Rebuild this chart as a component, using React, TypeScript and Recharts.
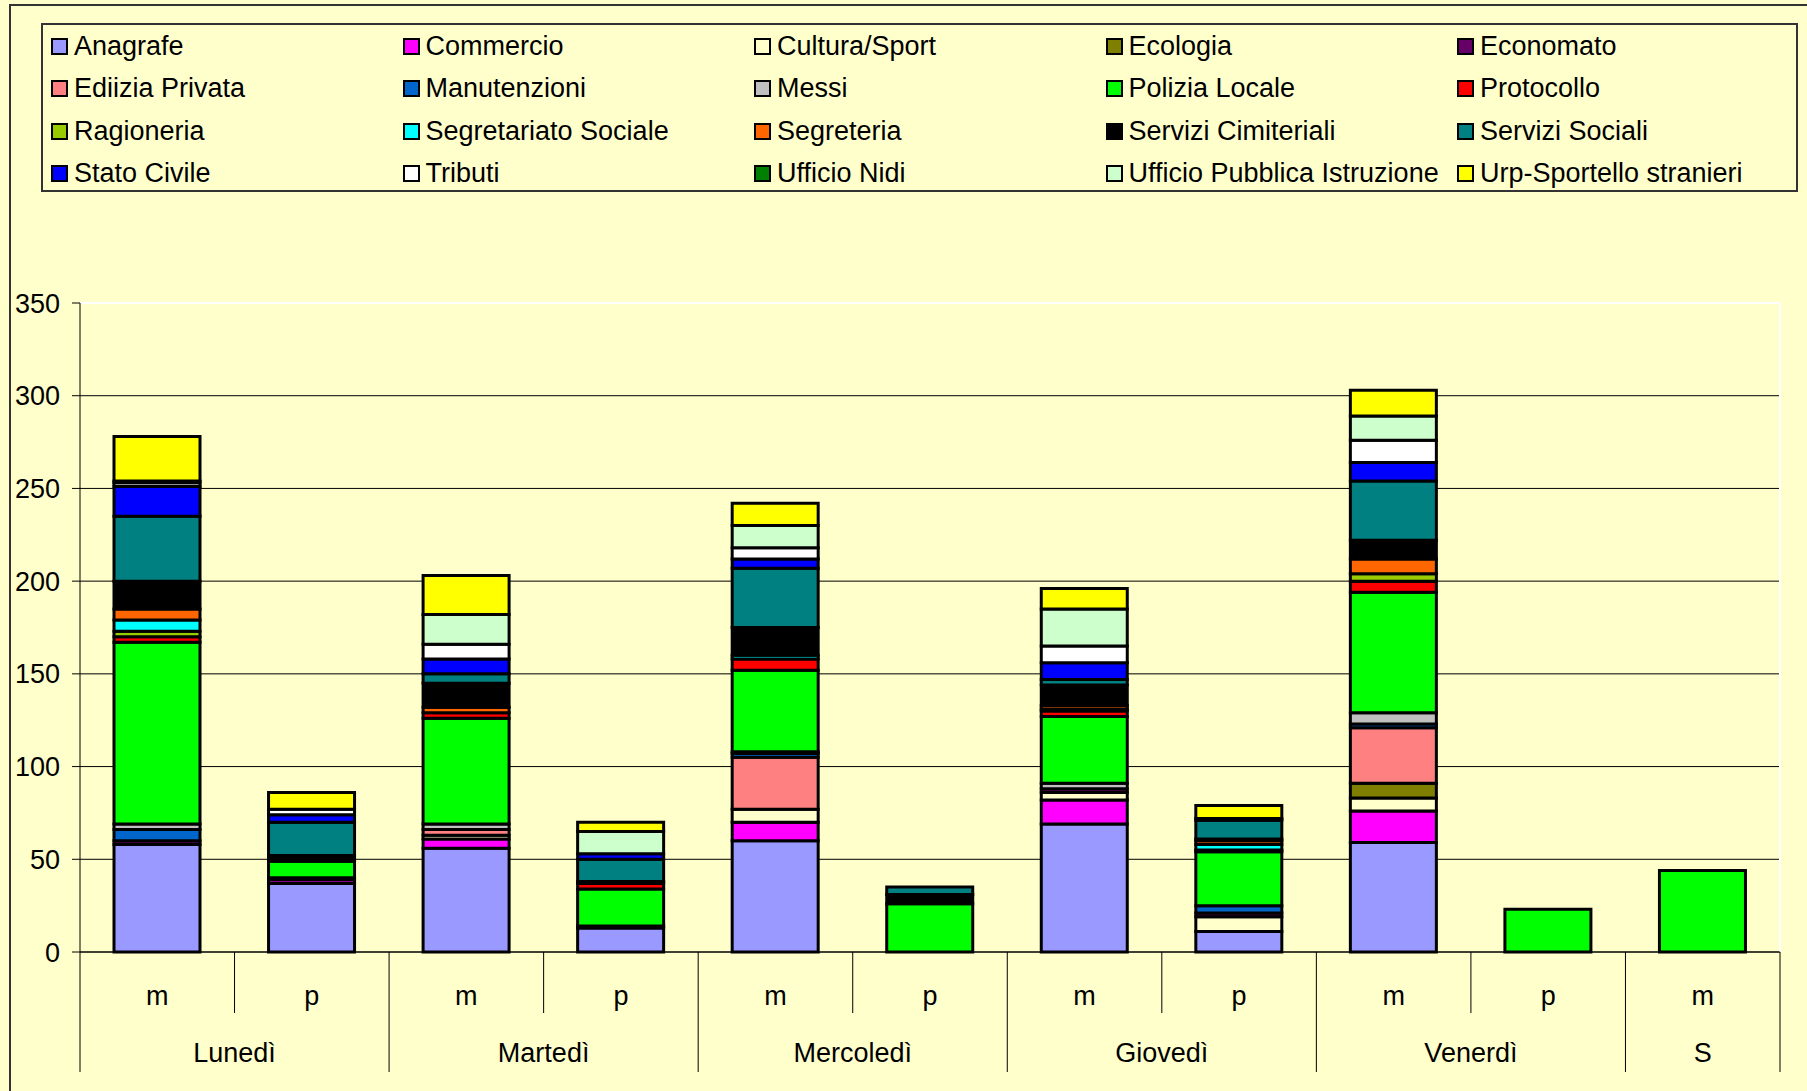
import { Bar, BarChart, CartesianGrid, ReferenceLine, XAxis, YAxis } from "recharts";

// slots: morning (m) / afternoon (p) for each day of the week
const slots = ["m", "p", "m", "p", "m", "p", "m", "p", "m", "p", "m"];
const slotDays = [
  "Lunedì", "Lunedì", "Martedì", "Martedì", "Mercoledì", "Mercoledì",
  "Giovedì", "Giovedì", "Venerdì", "Venerdì", "S",
];
const yTicks = [0, 50, 100, 150, 200, 250, 300, 350];

// accessi per ufficio, one value per slot
const anagrafe = [58, 37, 56, 13, 60, 0, 69, 11, 59, 0, 0];
const commercio = [0, 2, 5, 0, 10, 0, 13, 0, 17, 0, 0];
const culturaSport = [0, 0, 2, 0, 7, 0, 4, 8, 7, 0, 0];
const ecologia = [0, 0, 0, 0, 0, 0, 0, 0, 8, 0, 0];
const economato = [2, 1, 0, 1, 0, 0, 2, 2, 0, 0, 0];
const ediliziaPrivata = [0, 0, 3, 0, 28, 0, 0, 0, 30, 0, 0];
const manutenzioni = [6, 0, 0, 0, 2, 0, 0, 4, 2, 0, 0];
const messi = [3, 0, 3, 0, 1, 0, 3, 0, 6, 0, 0];
const poliziaLocale = [98, 9, 57, 20, 44, 26, 36, 29, 65, 23, 44];
const protocollo = [3, 0, 3, 3, 6, 0, 3, 1, 6, 0, 0];
const ragioneria = [3, 0, 0, 0, 0, 0, 1, 0, 4, 0, 0];
const segretariatoSociale = [6, 0, 0, 0, 2, 0, 0, 3, 0, 0, 0];
const segreteria = [6, 0, 3, 0, 0, 0, 2, 2, 8, 0, 0];
const serviziCimiteriali = [15, 3, 13, 1, 15, 5, 11, 1, 10, 0, 0];
const serviziSociali = [35, 18, 5, 12, 32, 4, 3, 10, 32, 0, 0];
const statoCivile = [16, 4, 8, 3, 5, 0, 9, 0, 10, 0, 0];
const tributi = [2, 3, 8, 0, 6, 0, 9, 0, 12, 0, 0];
const ufficioNidi = [1, 0, 0, 0, 0, 0, 0, 1, 0, 0, 0];
const pubblicaIstruzione = [0, 0, 16, 12, 12, 0, 20, 0, 13, 0, 0];
const urpStranieri = [24, 9, 21, 5, 12, 0, 11, 7, 14, 0, 0];

const seriesNames = [
  "Anagrafe", "Commercio", "Cultura/Sport", "Ecologia", "Economato",
  "Ediizia Privata", "Manutenzioni", "Messi", "Polizia Locale", "Protocollo",
  "Ragioneria", "Segretariato Sociale", "Segreteria", "Servizi Cimiteriali", "Servizi Sociali",
  "Stato Civile", "Tributi", "Ufficio Nidi", "Ufficio Pubblica Istruzione", "Urp-Sportello stranieri",
];
const seriesValues = [
  anagrafe, commercio, culturaSport, ecologia, economato,
  ediliziaPrivata, manutenzioni, messi, poliziaLocale, protocollo,
  ragioneria, segretariatoSociale, segreteria, serviziCimiteriali, serviziSociali,
  statoCivile, tributi, ufficioNidi, pubblicaIstruzione, urpStranieri,
];
const seriesColors = [
  "#9999FF", "#FF00FF", "#FFFFCC", "#808000", "#660066",
  "#FF8080", "#0066CC", "#C0C0C0", "#00FF00", "#FF0000",
  "#99CC00", "#00FFFF", "#FF6600", "#000000", "#008080",
  "#0000FF", "#FFFFFF", "#008000", "#CCFFCC", "#FFFF00",
];

const data = slots.map((slot, i) => {
  const row: Record<string, string | number> = { id: `${slotDays[i]} ${slot}` };
  seriesNames.forEach((name, s) => {
    row[name] = seriesValues[s][i];
  });
  return row;
});

// layout
const W = 1807;
const H = 1091;
const PLOT_LEFT = 80;
const PLOT_RIGHT = 1780;
const PLOT_TOP = 303;
const AXIS_Y = 952;
const BAND = (PLOT_RIGHT - PLOT_LEFT) / slots.length;
const FONT = "'Liberation Sans', Arial, sans-serif";
const FS = 27;

function SlotTick(props: any) {
  const { x, payload } = props;
  const i: number = props.index ?? payload.index;
  const left = x - BAND / 2;
  const day = slotDays[i];
  const dayStart = i === 0 || slotDays[i - 1] !== day;
  let span = 1;
  while (i + span < slotDays.length && slotDays[i + span] === day) span++;
  const last = i === slots.length - 1;
  return (
    <g>
      <line x1={left} x2={left} y1={AXIS_Y} y2={dayStart ? 1072 : 1013} stroke="#000" strokeWidth={1} />
      {last && <line x1={left + BAND} x2={left + BAND} y1={AXIS_Y} y2={1072} stroke="#000" strokeWidth={1} />}
      <text x={x} y={1005} textAnchor="middle" fontSize={FS} fontFamily={FONT} fill="#000">
        {slots[i]}
      </text>
      {dayStart && (
        <text x={left + (span * BAND) / 2} y={1062} textAnchor="middle" fontSize={FS} fontFamily={FONT} fill="#000">
          {day}
        </text>
      )}
    </g>
  );
}

function LegendBox() {
  return (
    <div
      style={{
        position: "absolute",
        left: 41,
        top: 23,
        width: 1757,
        height: 169,
        boxSizing: "border-box",
        border: "2px solid #333",
        fontFamily: FONT,
        fontSize: FS,
        color: "#000",
      }}
    >
      {seriesNames.map((name, s) => {
        const col = s % 5;
        const row = Math.floor(s / 5);
        return (
          <div
            key={name}
            style={{
              position: "absolute",
              left: 8 + col * 351.5,
              top: 21 + row * 42.6 - 16,
              height: 32,
              display: "flex",
              alignItems: "center",
              whiteSpace: "nowrap",
            }}
          >
            <span
              style={{
                width: 17,
                height: 17,
                boxSizing: "border-box",
                border: "2px solid #000",
                background: seriesColors[s],
                marginRight: 6,
                display: "inline-block",
              }}
            />
            {name}
          </div>
        );
      })}
    </div>
  );
}

export default function App() {
  return (
    <div
      style={{
        position: "absolute",
        left: 0,
        top: 0,
        width: W,
        height: H,
        background: "#FFFFCC",
        overflow: "hidden",
        fontFamily: FONT,
      }}
    >
      <div
        style={{
          position: "absolute",
          left: 9,
          top: 4,
          width: W,
          height: H,
          borderLeft: "2px solid #333",
          borderTop: "2px solid #333",
        }}
      />
      <LegendBox />
      <div style={{ position: "absolute", left: 0, top: 0 }}>
        <BarChart
          width={W}
          height={H}
          data={data}
          margin={{ top: PLOT_TOP, right: W - PLOT_RIGHT, bottom: 0, left: 10 }}
        >
          <CartesianGrid vertical={false} stroke="#000" strokeWidth={1} />
          <CartesianGrid horizontal={false} verticalPoints={[PLOT_RIGHT]} stroke="#fff" strokeWidth={2} />
          <ReferenceLine y={350} stroke="#fff" strokeWidth={2} />
          <YAxis
            width={70}
            domain={[0, 350]}
            ticks={yTicks}
            interval={0}
            tickSize={8}
            tickMargin={12}
            axisLine={{ stroke: "#000" }}
            tickLine={{ stroke: "#000" }}
            tick={{ fontSize: FS, fontFamily: FONT, fill: "#000" }}
          />
          <XAxis
            dataKey="id"
            height={H - AXIS_Y}
            interval={0}
            tickLine={false}
            axisLine={{ stroke: "#000" }}
            tick={<SlotTick />}
          />
          {seriesNames.map((name, s) => (
            <Bar
              key={name}
              dataKey={name}
              stackId="uffici"
              fill={seriesColors[s]}
              stroke="#000"
              strokeWidth={3}
              barSize={86}
              isAnimationActive={false}
            />
          ))}
        </BarChart>
      </div>
    </div>
  );
}
